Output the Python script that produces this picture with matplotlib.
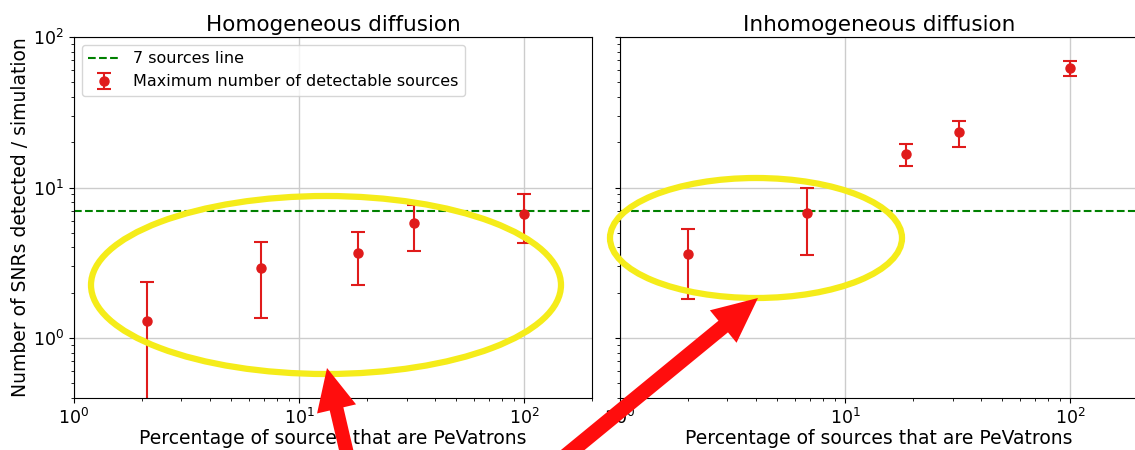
import matplotlib
matplotlib.use("Agg")
import matplotlib.pyplot as plt
from matplotlib.patches import Ellipse, FancyArrow
import numpy as np

# ---- data ----
hom_x = [2.1, 6.8, 18.3, 32.3, 100]
hom_y = [1.3, 2.9, 3.7, 5.85, 6.7]
hom_low = [0.3, 1.36, 2.26, 3.8, 4.3]
hom_high = [2.36, 4.37, 5.1, 7.7, 9.0]

inh_x = [2.0, 6.8, 18.7, 32.1, 100]
inh_y = [3.63, 6.8, 16.6, 23.3, 62]
inh_low = [1.82, 3.58, 13.8, 18.5, 55]
inh_high = [5.33, 10.0, 19.4, 27.5, 69]

line_value = 7
titles = ["Homogeneous diffusion", "Inhomogeneous diffusion"]
xlabel = "Percentage of sources that are PeVatrons"
ylabel = "Number of SNRs detected / simulation"
legend_line = "7 sources line"
legend_err = "Maximum number of detectable sources"

W, H = 1135, 450
fig = plt.figure(figsize=(W / 100, H / 100), dpi=100)

def px_rect(x0, y0, x1, y1):
    return [x0 / W, 1 - y1 / H, (x1 - x0) / W, (y1 - y0) / H]

ax1 = fig.add_axes(px_rect(74, 37, 592, 398))
ax2 = fig.add_axes(px_rect(620, 37, 1138, 398), sharey=ax1)

red = "#e01b1b"
for ax, x, y, lo, hi, title in [
    (ax1, hom_x, hom_y, hom_low, hom_high, titles[0]),
    (ax2, inh_x, inh_y, inh_low, inh_high, titles[1]),
]:
    y = np.array(y)
    yerr = np.vstack([y - np.array(lo), np.array(hi) - y])
    ax.set_xscale("log")
    ax.set_yscale("log")
    ax.axhline(line_value, color="green", ls="--", lw=1.5, label=legend_line)
    ax.errorbar(x, y, yerr=yerr, fmt="o", color=red, ecolor=red,
                markersize=6.5, capsize=5, elinewidth=1.5, capthick=1.5,
                label=legend_err)
    ax.set_xlim(1, 200)
    ax.set_ylim(0.4, 100)
    ax.grid(True, which="major", color="#cccccc", lw=1)
    ax.set_axisbelow(True)
    ax.set_title(title, fontsize=15.5, pad=4)
    ax.set_xlabel(xlabel, fontsize=13.5, labelpad=1)
    ax.tick_params(labelsize=12.5)

ax1.set_ylabel(ylabel, fontsize=13.5, labelpad=2)
plt.setp(ax2.get_yticklabels(), visible=False)
ax1.legend(loc="upper left", fontsize=11.5, framealpha=0.8)

# ---- overlay annotations (yellow ellipses, red arrows), pixel -> inches ----
def ix(px):
    return px / 100

def iy(py):
    return (H - py) / 100

tr = fig.dpi_scale_trans
ell1 = Ellipse((ix(326), iy(285)), width=4.70, height=1.78,
               transform=tr, fill=False, ec="#f5ec1a", lw=4.5)
ell2 = Ellipse((ix(756), iy(238)), width=2.92, height=1.20,
               transform=tr, fill=False, ec="#f5ec1a", lw=4.5)
fig.add_artist(ell1)
fig.add_artist(ell2)

arr1 = FancyArrow(ix(348), iy(458), ix(327) - ix(348), iy(368) - iy(458),
                  width=0.14, head_width=0.40, head_length=0.42,
                  length_includes_head=True, transform=tr,
                  color="#ff0d0d", lw=0)
arr2 = FancyArrow(ix(563), iy(458), ix(758) - ix(563), iy(298) - iy(458),
                  width=0.15, head_width=0.42, head_length=0.45,
                  length_includes_head=True, transform=tr,
                  color="#ff0d0d", lw=0)
fig.add_artist(arr1)
fig.add_artist(arr2)

fig.savefig("out.png", dpi=100)
